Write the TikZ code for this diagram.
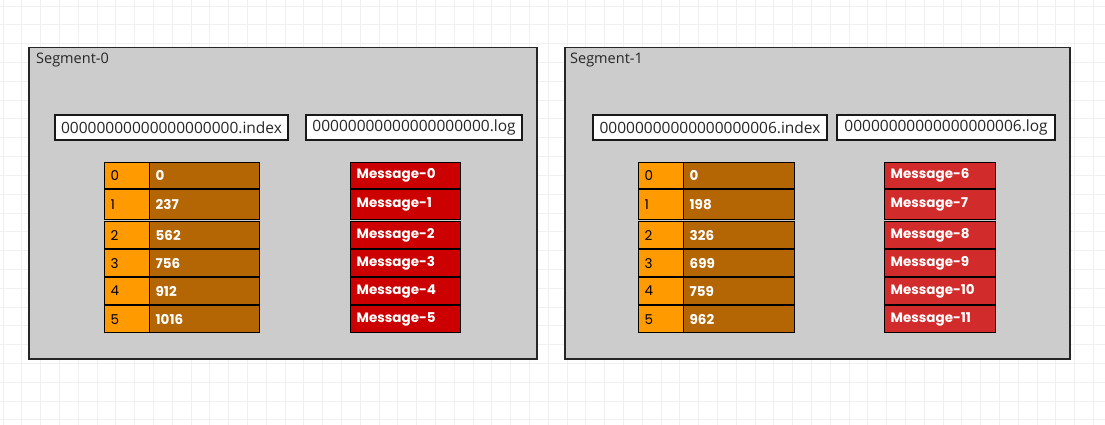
\documentclass[tikz,border=0pt]{standalone}
\usepackage{fontspec}
\setmainfont{Open Sans}
\newfontfamily\cellfont{Poppins}
\definecolor{segfill}{HTML}{CCCCCC}
\definecolor{idxorange}{HTML}{FF9A00}
\definecolor{offbrown}{HTML}{B46504}
\definecolor{msgred}{HTML}{CC0000}
\definecolor{msgredb}{HTML}{D12B2B}
\definecolor{gridc}{HTML}{F0F0F0}
\begin{document}
\begin{tikzpicture}[x=1pt,y=-1pt,
  seg/.style={draw=black!85, line width=1.5pt, fill=segfill},
  seglabel/.style={anchor=west, inner sep=0pt, font=\fontsize{14.5}{16}\selectfont, text=black!85},
  lbl/.style={draw=black!90, line width=1.3pt, fill=white, inner sep=0pt, minimum height=25pt, font=\fontsize{15.5}{17}\selectfont, text=black!85},
  cell/.style={draw=black, line width=1.3pt, anchor=north west, inner ysep=0pt, inner xsep=6pt, align=left, font=\cellfont\fontsize{13.5}{15}\selectfont},
  keycell/.style={cell, fill=idxorange, text=black},
  offcell/.style={cell, fill=offbrown, text=white, font=\cellfont\bfseries\fontsize{13.5}{15}\selectfont},
  msgcell/.style={cell, text=white, font=\cellfont\bfseries\fontsize{13.5}{15}\selectfont}
]
\useasboundingbox (0,0) rectangle (1105,425);
\fill[white] (0,0) rectangle (1105,425);
\foreach \k in {0,...,59} {\draw[gridc, line width=1pt] (3+18.8*\k,0) -- (3+18.8*\k,425);}
\foreach \k in {0,...,22} {\draw[gridc, line width=1pt] (0,6.2+18.8*\k) -- (1105,6.2+18.8*\k);}

% Segment 0
\node[seg, anchor=north west, minimum width=508pt, minimum height=311pt, inner sep=0pt] (seg0) at (28,47) {};
\node[seglabel] (seg0t) at (36,60) {Segment-0};
\node[lbl, minimum width=233pt] (seg0idx) at (171.5,127.5) {00000000000000000000.index};
\node[lbl, minimum width=216pt] (seg0log) at (414,127.5) {00000000000000000000.log};
\foreach \i/\t/\h/\o in {0/162/26/0, 1/189/30/237, 2/221/27/562, 3/249/27/756, 4/277/27/912, 5/305/27/1016} {
  \node[keycell, text width=33pt, minimum height=\h pt] (s0k\i) at (104,\t) {\i};
  \node[offcell, text width=98pt, minimum height=\h pt] (s0o\i) at (149,\t) {\o};
  \node[msgcell, fill=msgred, text width=98pt, minimum height=\h pt] (s0m\i) at (350,\t) {Message-\i};
}

% Segment 1
\node[seg, anchor=north west, minimum width=505pt, minimum height=311pt, inner sep=0pt] (seg1) at (564,47) {};
\node[seglabel] (seg1t) at (570,60) {Segment-1};
\node[lbl, minimum width=234pt] (seg1idx) at (710,127.5) {00000000000000000006.index};
\node[lbl, minimum width=218pt] (seg1log) at (946,127.5) {00000000000000000006.log};
\foreach \i/\t/\h/\o/\m in {0/162/26/0/6, 1/189/30/198/7, 2/221/27/326/8, 3/249/27/699/9, 4/277/27/759/10, 5/305/27/962/11} {
  \node[keycell, text width=33pt, minimum height=\h pt] (s1k\i) at (638,\t) {\i};
  \node[offcell, text width=99pt, minimum height=\h pt] (s1o\i) at (683,\t) {\o};
  \node[msgcell, fill=msgredb, text width=99pt, minimum height=\h pt] (s1m\i) at (884,\t) {Message-\m};
}
\end{tikzpicture}
\end{document}
